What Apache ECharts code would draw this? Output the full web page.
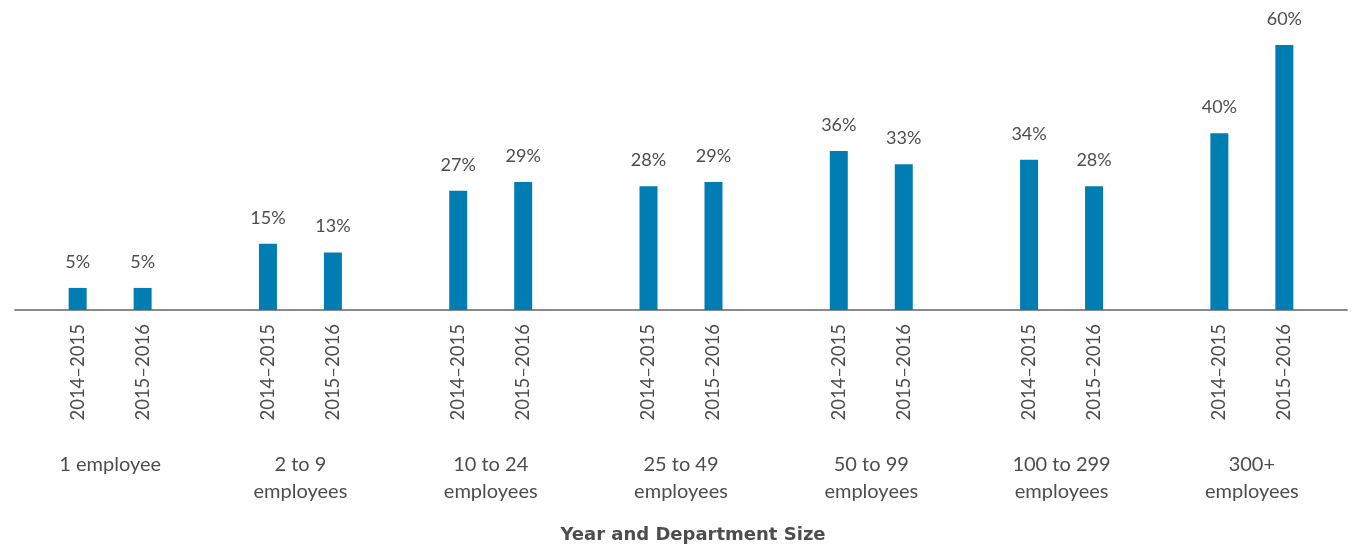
<!DOCTYPE html>
<html>
<head>
<meta charset="utf-8">
<script src="https://cdn.jsdelivr.net/npm/echarts@6/dist/echarts.min.js"></script>
<style>
  html, body { margin: 0; padding: 0; background: #ffffff; }
  #chart { width: 1354px; height: 550px; }
</style>
</head>
<body>
<div id="chart"></div>
<script>
// Department size groups (x axis categories)
const sizeGroups = [
  '1 employee',
  '2 to 9\nemployees',
  '10 to 24\nemployees',
  '25 to 49\nemployees',
  '50 to 99\nemployees',
  '100 to 299\nemployees',
  '300+\nemployees'
];

// Year labels shown under each bar
const yearLabels = ['2014\u20132015', '2015\u20132016'];

// Percentages per group for each year
const values2014 = [5, 15, 27, 28, 36, 34, 40];
const values2015 = [5, 13, 29, 29, 33, 28, 60];

const zeros = sizeGroups.map(() => 0);

const FONT = 'Lato, "Noto Sans", sans-serif';
const TEXT = '#4d4d4d';
const BAR = '#007db3';

// Zero-height base bar carrying the rotated year label under the axis
function yearBase(stack, label) {
  return {
    type: 'bar',
    stack: stack,
    data: zeros,
    barWidth: 18,
    itemStyle: { color: 'transparent' },
    silent: true,
    label: {
      show: true,
      position: 'bottom',
      distance: 14,
      rotate: 90,
      align: 'right',
      verticalAlign: 'middle',
      formatter: () => label,
      color: TEXT,
      fontFamily: FONT,
      fontSize: 18.5
    }
  };
}

// Visible value bar with its percentage on top
function valueBar(stack, name, data) {
  return {
    type: 'bar',
    name: name,
    stack: stack,
    data: data,
    barWidth: 18,
    barGap: '261%',
    itemStyle: { color: BAR },
    label: {
      show: true,
      position: 'top',
      distance: 17,
      formatter: p => p.value + '%',
      color: TEXT,
      fontFamily: FONT,
      fontSize: 18
    }
  };
}

const chart = echarts.init(document.getElementById('chart'), null, { renderer: 'canvas' });

chart.setOption({
  animation: false,
  backgroundColor: '#ffffff',
  textStyle: { fontFamily: FONT },
  grid: { left: 15, right: 7, top: 45, bottom: 240, containLabel: false },
  xAxis: {
    type: 'category',
    data: sizeGroups,
    axisLine: { lineStyle: { color: '#8a8a8a', width: 2 } },
    axisTick: { show: false },
    axisLabel: {
      margin: 141,
      color: TEXT,
      fontFamily: FONT,
      fontSize: 20,
      lineHeight: 27,
      verticalAlign: 'top',
      interval: 0
    },
    name: 'Year and Department Size',
    nameLocation: 'middle',
    nameGap: 216,
    nameTextStyle: {
      color: '#4d4d4d',
      fontFamily: '"DejaVu Sans", sans-serif',
      fontWeight: 'bold',
      fontSize: 18,
      padding: [0, 0, 0, 24]
    }
  },
  yAxis: {
    type: 'value',
    min: 0,
    max: 60,
    show: false
  },
  series: [
    yearBase('a', yearLabels[0]),
    valueBar('a', yearLabels[0], values2014),
    yearBase('b', yearLabels[1]),
    valueBar('b', yearLabels[1], values2015)
  ]
});
</script>
</body>
</html>
